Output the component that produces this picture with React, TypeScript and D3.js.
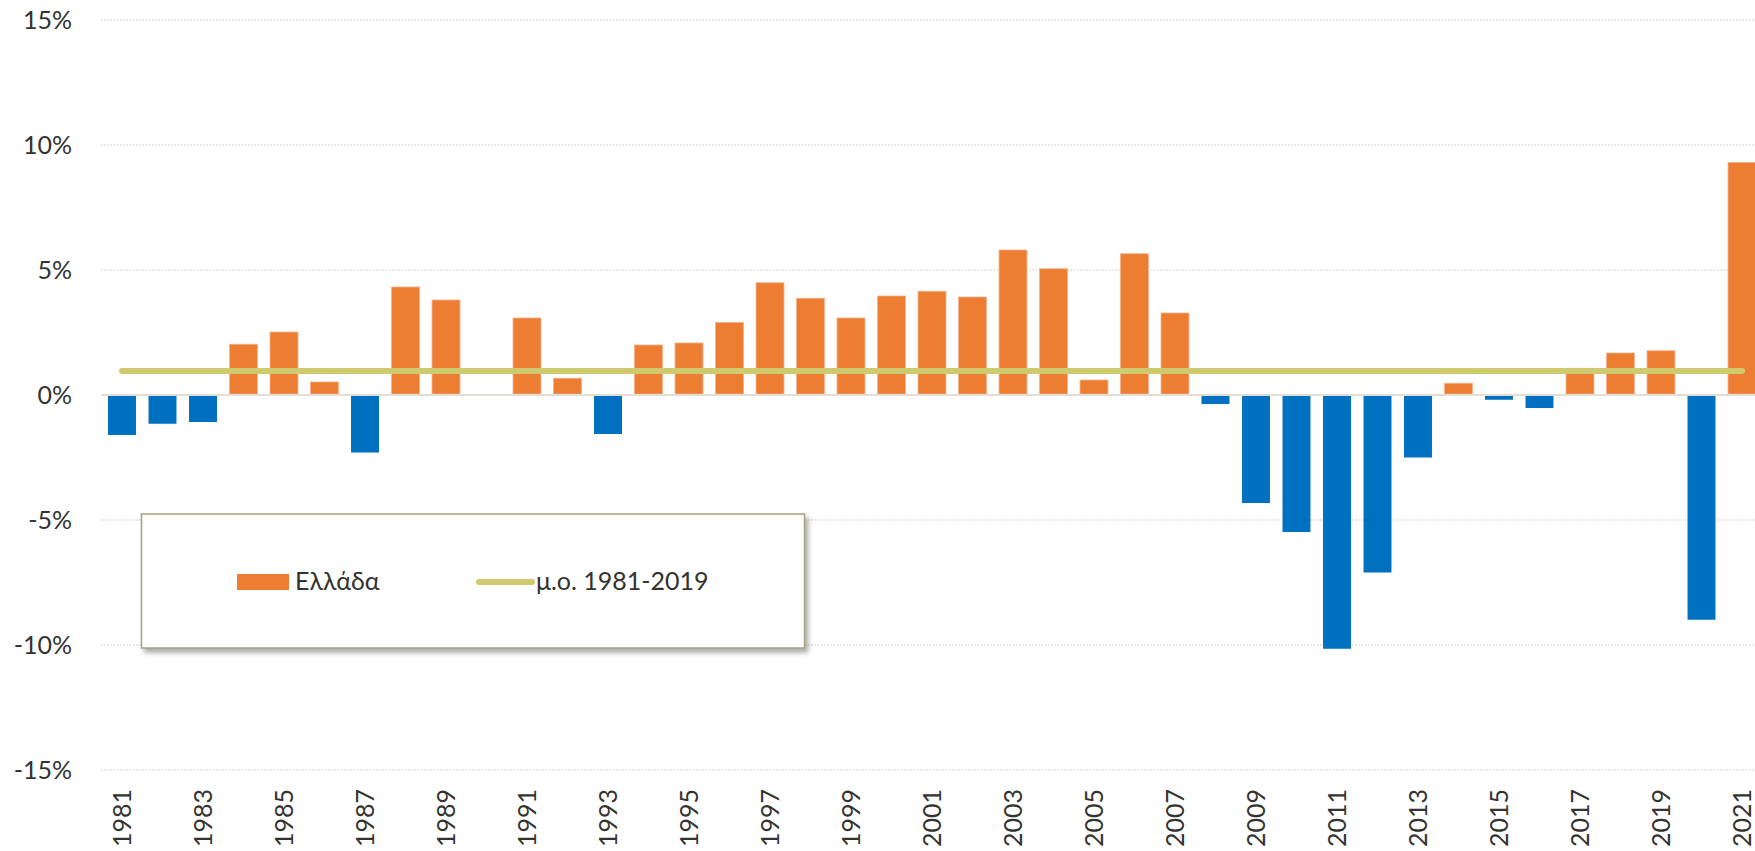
import React from "react";
import * as d3 from "d3";

const years: number[] = [
  1981, 1982, 1983, 1984, 1985, 1986, 1987, 1988, 1989, 1990,
  1991, 1992, 1993, 1994, 1995, 1996, 1997, 1998, 1999, 2000,
  2001, 2002, 2003, 2004, 2005, 2006, 2007, 2008, 2009, 2010,
  2011, 2012, 2013, 2014, 2015, 2016, 2017, 2018, 2019, 2020, 2021,
];

const greeceValues: number[] = [
  -1.6, -1.15, -1.08, 2.03, 2.52, 0.52, -2.3, 4.32, 3.8, 0.0,
  3.08, 0.67, -1.56, 2.0, 2.08, 2.9, 4.49, 3.87, 3.08, 3.96,
  4.15, 3.92, 5.8, 5.05, 0.6, 5.65, 3.28, -0.36, -4.32, -5.48,
  -10.15, -7.1, -2.5, 0.47, -0.19, -0.52, 1.07, 1.68, 1.77, -8.99, 9.3,
];

const averageValue = 0.96;

const yTicks: number[] = [-15, -10, -5, 0, 5, 10, 15];
const xTickLabels: number[] = years.filter((y) => (y - 1981) % 2 === 0);

const seriesLabel = "Ελλάδα";
const averageLabel = "μ.ο. 1981-2019";

const W = 1755;
const H = 851;
const FONT = "Lato, 'Open Sans', sans-serif";
const TEXT = "#333330";
const ORANGE = "#ED7D31";
const BLUE = "#0070C0";
const OLIVE = "#CFCA6E";

export default function App() {
  const x = d3
    .scaleBand<number>()
    .domain(years)
    .range([101.75, 1762.25])
    .paddingInner(0.31)
    .paddingOuter(0.155);
  const y = d3.scaleLinear().domain([-15, 15]).range([770, 20]);
  const y0 = y(0);
  const gridX0 = 101;

  const lineGen = d3
    .line<number>()
    .x((d) => (x(d) as number) + x.bandwidth() / 2)
    .y(() => y(averageValue));

  return (
    <svg
      width={W}
      height={H}
      style={{ position: "absolute", left: 0, top: 0, background: "#fff" }}
    >
      <defs>
        <filter id="shadow" x="-10%" y="-10%" width="130%" height="140%">
          <feDropShadow dx="3" dy="4" stdDeviation="2.5" floodColor="#555" floodOpacity="0.5" />
        </filter>
      </defs>
      <rect x={0} y={0} width={W} height={H} fill="#fff" />
      {/* gridlines */}
      {yTicks
        .filter((t) => t !== 0)
        .map((t) => (
          <line
            key={t}
            x1={gridX0}
            x2={W}
            y1={y(t)}
            y2={y(t)}
            stroke="#DCDCD2"
            strokeWidth={1.6}
            strokeDasharray="1.6 1.6"
          />
        ))}
      {/* y labels */}
      {yTicks.map((t) => (
        <text
          key={t}
          x={72}
          y={y(t)}
          dy="0.36em"
          textAnchor="end"
          fontFamily={FONT}
          fontSize={25}
          fill={TEXT}
        >
          {`${t}%`}
        </text>
      ))}
      {/* bars */}
      {years.map((yr, i) => {
        const v = greeceValues[i];
        if (v === 0) return null;
        const bx = x(yr) as number;
        const top = v > 0 ? y(v) : y0 + 1;
        const h = v > 0 ? y0 - 1 - y(v) : y(v) - y0 - 1;
        return (
          <rect
            key={yr}
            x={bx}
            y={top}
            width={x.bandwidth()}
            height={Math.max(0, h)}
            fill={v > 0 ? ORANGE : BLUE}
            stroke={v > 0 ? "#F6B08A" : "none"}
            strokeWidth={v > 0 ? 0.8 : 0}
          />
        );
      })}
      {/* zero line */}
      <line x1={gridX0} x2={W} y1={y0} y2={y0} stroke="#E2DED6" strokeWidth={2} />
      {/* average line */}
      <path
        d={lineGen(years) || ""}
        fill="none"
        stroke={OLIVE}
        strokeWidth={6}
        strokeLinecap="round"
      />
      {/* x labels */}
      {xTickLabels.map((yr) => {
        const cx = (x(yr) as number) + x.bandwidth() / 2;
        return (
          <text
            key={yr}
            transform={`translate(${cx},789) rotate(-90)`}
            textAnchor="end"
            dy="0.36em"
            fontFamily={FONT}
            fontSize={25}
            fill={TEXT}
          >
            {yr}
          </text>
        );
      })}
      {/* legend */}
      <g>
        <rect
          x={141.5}
          y={514}
          width={663}
          height={134}
          fill="#fff"
          stroke="#A8A27E"
          strokeWidth={1.5}
          filter="url(#shadow)"
        />
        <rect x={237} y={574} width={52} height={16} fill={ORANGE} />
        <text x={295} y={590} fontFamily={FONT} fontSize={25} fill={TEXT}>
          {seriesLabel}
        </text>
        <line
          x1={479}
          x2={532}
          y1={582}
          y2={582}
          stroke={OLIVE}
          strokeWidth={6}
          strokeLinecap="round"
        />
        <text x={536} y={590} fontFamily={FONT} fontSize={25} fill={TEXT}>
          {averageLabel}
        </text>
      </g>
    </svg>
  );
}
